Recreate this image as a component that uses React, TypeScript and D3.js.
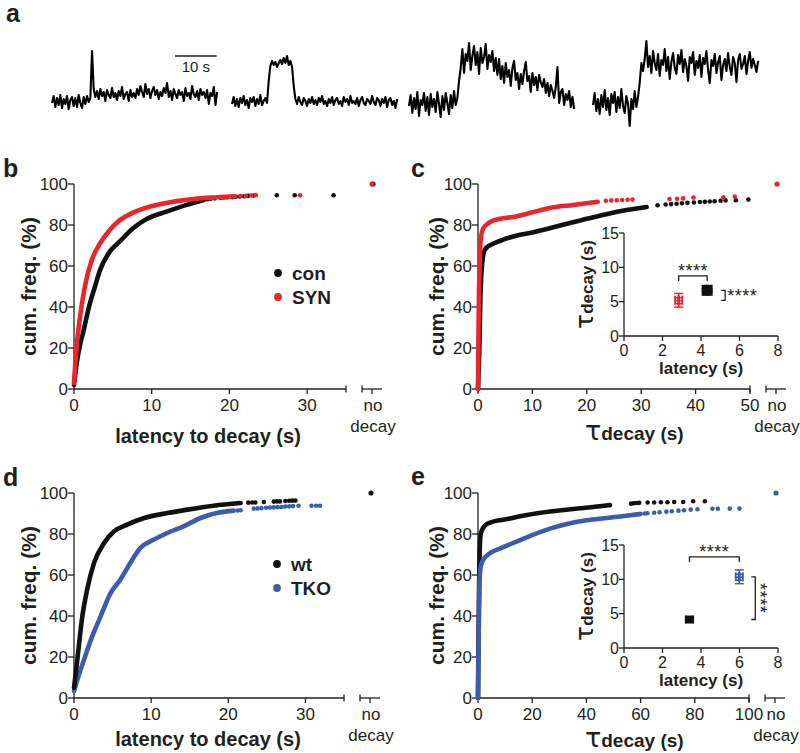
import React from 'react';
import * as d3 from 'd3';

type Pt = [number, number];

// ---------- tick labels / categories ----------
const Y_TICKS = [0, 20, 40, 60, 80, 100];
const B_X_TICKS = [0, 10, 20, 30];
const C_X_TICKS = [0, 10, 20, 30, 40, 50];
const D_X_TICKS = [0, 10, 20, 30];
const E_X_TICKS = [0, 20, 40, 60, 80, 100];
const INSET_X_TICKS = [0, 2, 4, 6, 8];
const INSET_Y_TICKS = [0, 5, 10, 15];
const B_GROUPS = ['con', 'SYN'];
const D_GROUPS = ['wt', 'TKO'];
const SIG_LABEL = '****';

// ---------- panel a: example traces (a.u., one sample every 0.4 s) ----------
const TRACE_1 = [-2, 5, -6, 3, -4, 6, -7, 2, -3, 5, -8, 1, 4, -5, 3, -6, 6, -2, -7, 4, -3, 5, -1, 3,
  50, 12,
  4, 10, 2, 12, 5, 9, 0, 11, 6, 3, 13, 4, 8, 1, 10, 5, 14, 2, 7, 9, 0, 11, 4, 8, 3, 12, 6, 15, 9, 4,
  17, 7, 12, 3, 10, 14, 6, 11, 2, 9, 5, 13, 8, 18, 4, 10, 1, 12, 7, 3, 11, 6, 9, 0, 13, 5, 8, 2, 15, 7,
  4, 10, 1, 12, 6, 9, 3, 11, -3, 8, 5, 14, -4, 9];
const TRACE_2 = [-3, 4, -5, 2, -6, 3, -2, 5, -4, 1, -7, 3, -1, 4, -5, 2, -3, 6, -4, 0, 3, -2,
  20,
  35, 40, 36, 39, 34, 38, 41, 37, 43, 38, 45, 36, 40, 34,
  15,
  2, -3, 4, -1, -4, 3, 0, -5, 2, -2, 4, -3, 1, -4, 3, -1, 5, -3, 0, -5, 2, -2, 4, -4, 1, 3, -3, 0, -5, 4,
  -1, 2, -4, 5, -2, 0, -3, 3, -5, 1, 4, -2, -4, 2, 0, -3, 5, -1, -4, 3, 1, -5, 2, -2, 4, -6, 1, 3, -4, 0,
  -7, 2];
const TRACE_3 = [-5, 6, -12, 3, -8, 9, -15, 1, -4, 8, -10, 4, -14, 7, -6, 2, -11, 9, -3, -16, 5, -9, 8, -2, -13, 6, -7, 10, -4, 3,
  20,
  33, 52, 28, 47, 40, 58, 31, 45, 55, 36, 49, 27, 53, 38, 44, 57, 32, 46, 39, 50, 30, 43,
  26, 42, 22, 35, 18, 38, 24, 31, 15, 33, 40, 21, 28,
  12, 27, 17, 30, 39, 20, 25, 9, 28, 16, 24, 11, 26, 19, 14,
  22, 8, 18, 5, 16, 10, 3, 14, 34, -2, 9, 12, -4, 7, 1, 10, -6, 4, -8];
const TRACE_4 = [-4, 8, -10, 2, -13, 6, -6, 11, -9, 3, -14, 7, -2, 9, -11, 4, -7, 12, -5, -12, 5, -3, -25, 2, -8, 10, -6, 4,
  18, 38, 30, 42, 60,
  34, 45, 28, 50, 38, 31, 47, 25, 41, 36, 52, 30, 44, 22, 39, 48, 33, 27, 46, 37, 51, 29, 42, 35, 20, 44, 38, 49, 26, 40,
  33, 46, 24, 43, 37, 50, 31, 18, 41, 35, 47, 28, 39, 45, 21, 36, 42, 30, 48, 34, 26, 44, 38, 19, 41, 47, 32, 37, 45, 27,
  40, 49, 33, 42, 36, 29, 40];
const TRACE_DT = 0.4; // s per sample
const SCALE_BAR_S = 10;

// ---------- panel b: latency to decay (s) vs cum. freq. (%) ----------
const B_CON_CURVE: Pt[] = [[0, 2], [0.34, 12.5], [0.8, 22], [1.2, 28], [2.06, 42], [2.7, 50], [3.35, 58], [4.6, 67], [5.9, 72], [7.6, 78.4], [9.4, 83], [11.9, 86.5], [14.5, 89.8], [16.7, 92.2]];
const B_CON_TAIL: Pt[] = [[17.2, 92.6], [17.6, 92.8], [18.1, 93], [18.9, 93.3], [19.3, 93.4], [19.7, 93.5], [20.4, 93.6], [20.8, 93.8], [21.3, 93.9], [21.9, 94], [22.4, 94.2], [23.1, 94.4], [26.1, 94.5], [28.4, 94.5], [33.4, 94.5]];
const B_SYN_CURVE: Pt[] = [[0, 3], [0.34, 20.6], [0.77, 35], [1.4, 50], [2.3, 63], [3.35, 71], [4.6, 77.6], [5.9, 82.4], [7.6, 86], [9.8, 89], [12.8, 91.4], [15.4, 92.7], [18.4, 93.5], [20.7, 94]];
const B_SYN_TAIL: Pt[] = [[21.4, 94.1], [22.1, 94.2], [22.8, 94.4], [23.4, 94.5], [29.1, 94.5]];

// ---------- panel c: tau decay (s) ----------
const C_CON_CURVE: Pt[] = [[0, 0], [0.25, 20], [0.45, 45], [0.6, 55], [0.8, 62], [1.1, 67], [1.6, 69], [2.5, 70.5], [4, 72.2], [7, 74.8], [10, 76.4], [13, 78.3], [16, 80.4], [20, 83], [23.6, 85.3], [27.3, 87.3], [31, 88.8]];
const C_CON_TAIL: Pt[] = [[33, 89.6], [34.5, 90], [35.5, 90.2], [36.5, 90.4], [37.5, 90.6], [38.5, 90.8], [39.7, 91], [40.8, 91.2], [41.7, 91.3], [42.6, 91.5], [43.5, 91.6], [44.6, 91.8], [45.5, 92], [47.4, 92.1], [49.7, 92.4]];
const C_SYN_CURVE: Pt[] = [[0, 0], [0.1, 30], [0.2, 50], [0.35, 65], [0.55, 74], [0.9, 78], [1.5, 80], [2.8, 82.2], [4, 83], [7, 84.2], [10, 86.2], [13, 88.2], [17.5, 89.8], [22, 91.3]];
const C_SYN_TAIL: Pt[] = [[23.5, 91.8], [24.5, 92], [25.5, 92.1], [26.5, 92.2], [27.5, 92.3], [28.4, 92.4], [35.2, 92.7], [36.6, 92.8], [37.7, 93], [39.6, 93.4], [45.1, 93.5], [47.2, 93.9]];

// ---------- panel d: latency to decay (s) ----------
const D_WT_CURVE: Pt[] = [[0, 5], [0.43, 18.7], [1.08, 39.8], [1.7, 52.8], [2.6, 65.9], [3.9, 75.6], [5.2, 81.3], [6.9, 84.6], [9.1, 87.8], [12.1, 90.2], [14.7, 91.9], [18.1, 93.8], [21.6, 95.1]];
const D_WT_TAIL: Pt[] = [[22.6, 95.3], [23.1, 95.4], [23.5, 95.4], [24.6, 95.6], [25.9, 95.8], [26.3, 95.9], [26.7, 95.9], [27.4, 96.1], [27.9, 96.2], [28.3, 96.3], [28.7, 96.3]];
const D_TKO_CURVE: Pt[] = [[0, 3.3], [0.43, 8.9], [1.3, 18.7], [2.2, 28.5], [3.45, 39.8], [4.74, 51.2], [6, 57.7], [7.3, 65.9], [8.6, 73.2], [10.3, 77.2], [12.1, 80.5], [14.2, 83.7], [16.4, 87.8], [18.5, 90.2], [20.7, 91.4]];
const D_TKO_TAIL: Pt[] = [[21.2, 91.5], [21.6, 91.6], [23.3, 92.4], [23.8, 92.5], [24.3, 92.6], [24.9, 92.8], [25.4, 92.9], [25.9, 93], [26.4, 93.1], [26.9, 93.2], [27.4, 93.4], [27.9, 93.5], [28.4, 93.6], [29.1, 93.8], [30.8, 93.8], [31.4, 93.8], [31.9, 93.8]];

// ---------- panel e: tau decay (s) ----------
const E_WT_CURVE: Pt[] = [[0, 0], [0.2, 30], [0.4, 55], [0.6, 70], [0.9, 79], [1.5, 82], [2.5, 84], [4.5, 85.6], [10.7, 87.3], [18, 89.3], [26.6, 91], [35.2, 92.2], [45, 93.5], [48.7, 94.1]];
const E_WT_TAIL: Pt[] = [[56.5, 94.8], [57.5, 95], [58.5, 95.1], [59.5, 95.2], [62.6, 95.4], [65, 95.4], [67.5, 95.5], [69.9, 95.5], [72.4, 95.6], [75.7, 95.6], [79.4, 96], [83.7, 96]];
const E_TKO_CURVE: Pt[] = [[0, 0], [0.2, 25], [0.4, 45], [0.6, 58], [1, 64], [2, 67.5], [3.3, 69.5], [5.5, 71.5], [8.2, 73], [14.4, 76.4], [20.5, 79.7], [26.6, 82.6], [32.8, 84.9], [40.1, 86.7], [47.5, 87.8], [54.8, 88.9], [60, 89.8]];
const E_TKO_TAIL: Pt[] = [[61.5, 90], [62.5, 90.1], [65, 90.4], [67, 90.6], [69.5, 90.9], [71.5, 91.1], [74, 91.4], [76, 91.6], [78.5, 91.9], [81, 92.1], [86.5, 92.3], [88.5, 92.3], [92.9, 92.4], [96.5, 92.4]];

// ---------- insets: mean latency (s) and tau decay (s) ----------
const C_INSET_LATENCY = [4.32, 2.84];
const C_INSET_TAU = [6.65, 5.2];
const C_INSET_LAT_SEM = [0.05, 0.08];
const C_INSET_TAU_SEM = [0.2, 1.0];
const E_INSET_LATENCY = [3.4, 5.99];
const E_INSET_TAU = [4.15, 10.37];
const E_INSET_LAT_SEM = [0.2, 0.08];
const E_INSET_TAU_SEM = [0.25, 1.0];

// ---------- styles ----------
const FONT = "'Liberation Sans', Arial, Helvetica, sans-serif";
const INK = '#231f20';
const RED = '#e8262b';
const BLUE = '#3d5cab';
const BLK = '#111111';
const COLORS: Record<string, string> = { con: BLK, SYN: RED, wt: BLK, TKO: BLUE };
const MARKER_SIZE: Record<string, number> = { con: 11, SYN: 9, wt: 8, TKO: 9 };
const HOLLOW: Record<string, boolean> = { con: false, SYN: true, wt: false, TKO: true };

interface Layout { x0: number; xEnd: number; yBottom: number; yTop: number; }
interface Series { group: string; curve: Pt[]; tail: Pt[]; }

function TauTitle({ x, y, rotate, anchor, big, small }:
  { x: number; y: number; rotate?: number; anchor: string; big: number; small: number }) {
  return (
    <text x={x} y={y} textAnchor={anchor} fill={INK}
      transform={rotate ? `rotate(${rotate},${x},${y})` : undefined} fontFamily={FONT}>
      <tspan fontSize={big} fontFamily="'DejaVu Sans', sans-serif">τ</tspan>
      <tspan fontSize={small} fontWeight="bold">decay (s)</tspan>
    </text>
  );
}

function CumPanel({ L, xMax, xTicks, series, nd, legend, legendPos, yTitleX, xTitle, xTitleX, xTitleY }:
  {
    L: Layout; xMax: number; xTicks: number[]; series: Series[]; nd: string[];
    legend?: string[]; legendPos?: [number, number]; yTitleX: number; xTitle: 'latency' | 'tau';
    xTitleX: number; xTitleY: number;
  }) {
  const x = d3.scaleLinear().domain([0, xMax]).range([L.x0, L.xEnd]);
  const y = d3.scaleLinear().domain([0, 100]).range([L.yBottom, L.yTop]);
  const line = d3.line<Pt>().x(d => x(d[0])).y(d => y(d[1])).curve(d3.curveMonotoneX);
  const yB = L.yBottom;
  const ndX = L.xEnd + 26;
  const sw = 1.3;
  return (
    <g fontFamily={FONT} fill={INK}>
      {/* y axis */}
      <line x1={L.x0} x2={L.x0} y1={y(0)} y2={y(100)} stroke={INK} strokeWidth={sw} />
      {Y_TICKS.map(t => (
        <g key={'y' + t}>
          <line x1={L.x0 - 6} x2={L.x0} y1={y(t)} y2={y(t)} stroke={INK} strokeWidth={sw} />
          <text x={L.x0 - 6} y={y(t)} dy="0.36em" textAnchor="end" fontSize={17}>{t}</text>
        </g>
      ))}
      {/* x axis with break */}
      <line x1={L.x0} x2={x(xMax)} y1={yB} y2={yB} stroke={INK} strokeWidth={sw} />
      {xTicks.map(t => (
        <g key={'x' + t}>
          <line x1={x(t)} x2={x(t)} y1={yB} y2={yB + 5} stroke={INK} strokeWidth={sw} />
          <text x={x(t)} y={yB + 22} textAnchor="middle" fontSize={17}>{t}</text>
        </g>
      ))}
      <line x1={x(xMax)} x2={x(xMax)} y1={yB - 3.5} y2={yB + 3.5} stroke={INK} strokeWidth={sw} />
      <line x1={L.xEnd + 16} x2={L.xEnd + 36} y1={yB} y2={yB} stroke={INK} strokeWidth={sw} />
      <line x1={L.xEnd + 16} x2={L.xEnd + 16} y1={yB - 3.5} y2={yB + 3.5} stroke={INK} strokeWidth={sw} />
      <line x1={ndX} x2={ndX} y1={yB} y2={yB + 5} stroke={INK} strokeWidth={sw} />
      <text x={ndX + 1} y={yB + 22} textAnchor="middle" fontSize={17}>no</text>
      <text x={ndX + 1} y={yB + 43} textAnchor="middle" fontSize={17}>decay</text>
      {/* titles */}
      <text x={yTitleX} y={(L.yBottom + L.yTop) / 2} textAnchor="middle" fontSize={21} fontWeight="bold"
        transform={`rotate(-90,${yTitleX},${(L.yBottom + L.yTop) / 2})`}>cum. freq. (%)</text>
      {xTitle === 'latency'
        ? <text x={xTitleX} y={xTitleY} textAnchor="middle" fontSize={20} fontWeight="bold">latency to decay (s)</text>
        : <TauTitle x={xTitleX} y={xTitleY} anchor="start" big={27} small={19} />}
      {/* data */}
      {series.map(s => (
        <g key={s.group}>
          <path d={line(s.curve) || ''} fill="none" stroke={COLORS[s.group]} strokeWidth={4.6}
            strokeLinecap="round" strokeLinejoin="round" />
          {s.tail.map((p, i) => (
            <circle key={i} cx={x(p[0])} cy={y(p[1])} r={2.3} fill={COLORS[s.group]} />
          ))}
        </g>
      ))}
      {nd.map((g, i) => (
        <circle key={'nd' + g} cx={ndX + 1 - i} cy={y(100)} r={2.6} fill={COLORS[g]} />
      ))}
      {legend && legendPos && legend.map((g, i) => (
        <g key={'lg' + g}>
          <circle cx={legendPos[0]} cy={legendPos[1] + i * 24} r={3.9} fill={COLORS[g]} />
          <text x={legendPos[0] + 14} y={legendPos[1] + i * 24 + 7} fontSize={19} fontWeight="bold" fill={INK}>{g}</text>
        </g>
      ))}
    </g>
  );
}

function Inset({ L, groups, latency, tau, latSem, tauSem, vertical }:
  { L: Layout; groups: string[]; latency: number[]; tau: number[]; latSem: number[]; tauSem: number[]; vertical: boolean }) {
  const x = d3.scaleLinear().domain([0, 8]).range([L.x0, L.xEnd]);
  const y = d3.scaleLinear().domain([0, 15]).range([L.yBottom, L.yTop]);
  const sw = 1.3;
  const yMid = (L.yBottom + L.yTop) / 2;
  const px = latency.map(v => x(v));
  const py = tau.map(v => y(v));
  const bracketY = Math.min(...py.map((v, i) => v - (y(0) - y(tauSem[i])))) - 13;
  const vx = Math.max(...px) + (vertical ? 16 : 18);
  const vTop = Math.min(...py);
  const vBot = Math.max(...py);
  return (
    <g fontFamily={FONT} fill={INK}>
      <line x1={L.x0} x2={L.x0} y1={y(0)} y2={y(15)} stroke={INK} strokeWidth={sw} />
      {INSET_Y_TICKS.map(t => (
        <g key={'iy' + t}>
          <line x1={L.x0 - 5} x2={L.x0} y1={y(t)} y2={y(t)} stroke={INK} strokeWidth={sw} />
          <text x={L.x0 - 5} y={y(t)} dy="0.36em" textAnchor="end" fontSize={16}>{t}</text>
        </g>
      ))}
      <line x1={L.x0} x2={x(8)} y1={L.yBottom} y2={L.yBottom} stroke={INK} strokeWidth={sw} />
      {INSET_X_TICKS.map(t => (
        <g key={'ix' + t}>
          <line x1={x(t)} x2={x(t)} y1={L.yBottom} y2={L.yBottom + 5} stroke={INK} strokeWidth={sw} />
          <text x={x(t)} y={L.yBottom + 20} textAnchor="middle" fontSize={16}>{t}</text>
        </g>
      ))}
      <text x={(L.x0 + L.xEnd) / 2} y={L.yBottom + 38} textAnchor="middle" fontSize={17} fontWeight="bold">latency (s)</text>
      <TauTitle x={L.x0 - 31} y={yMid} rotate={-90} anchor="middle" big={25} small={17} />
      {/* markers */}
      {groups.map((g, i) => {
        const s = MARKER_SIZE[g];
        const c = COLORS[g];
        const cx = px[i], cy = py[i];
        const yt = y(tau[i] + tauSem[i]), yb = y(tau[i] - tauSem[i]);
        const xl = x(latency[i] - latSem[i]), xr = x(latency[i] + latSem[i]);
        return (
          <g key={'m' + g}>
            <rect x={cx - s / 2} y={cy - s / 2} width={s} height={s} fill={c} />
            <line x1={cx} x2={cx} y1={yt} y2={yb} stroke={c} strokeWidth={1.5} />
            <line x1={cx - s / 2} x2={cx + s / 2} y1={yt} y2={yt} stroke={c} strokeWidth={1.5} />
            <line x1={cx - s / 2} x2={cx + s / 2} y1={yb} y2={yb} stroke={c} strokeWidth={1.5} />
            <line x1={xl} x2={xr} y1={cy} y2={cy} stroke={c} strokeWidth={1.5} />
            <line x1={xl} x2={xl} y1={cy - s / 2} y2={cy + s / 2} stroke={c} strokeWidth={1.5} />
            <line x1={xr} x2={xr} y1={cy - s / 2} y2={cy + s / 2} stroke={c} strokeWidth={1.5} />
            {HOLLOW[g] && (
              <g stroke="#ffffff" strokeWidth={1.2} strokeDasharray="1.5,1.5">
                <line x1={cx - 2} x2={cx - 2} y1={yt + 2} y2={yb - 1} />
                <line x1={cx + 2} x2={cx + 2} y1={yt + 2} y2={yb - 1} />
              </g>
            )}
          </g>
        );
      })}
      {/* horizontal significance bracket */}
      <path d={`M${Math.min(...px)},${bracketY + 5}V${bracketY}H${Math.max(...px)}V${bracketY + 5}`}
        fill="none" stroke={INK} strokeWidth={sw} />
      <text x={(px[0] + px[1]) / 2} y={bracketY + 1} textAnchor="middle" fontSize={18} letterSpacing={0.5}>{SIG_LABEL}</text>
      {/* vertical significance bracket */}
      <path d={`M${vx - 4},${vTop}H${vx}V${vBot}H${vx - 4}`} fill="none" stroke={INK} strokeWidth={sw} />
      {vertical
        ? <text x={vx - 1} y={(vTop + vBot) / 2} textAnchor="middle" fontSize={18} letterSpacing={0.5}
          transform={`rotate(90,${vx - 1},${(vTop + vBot) / 2})`}>{SIG_LABEL}</text>
        : <text x={vx + 2} y={(vTop + vBot) / 2 + 7} fontSize={18} letterSpacing={0.5}>{SIG_LABEL}</text>}
    </g>
  );
}

function Traces() {
  const traces = [TRACE_1, TRACE_2, TRACE_3, TRACE_4];
  const starts = [52, 232, 409, 593];
  const t = d3.scaleLinear().domain([0, 10]).range([0, 41.7]);
  const yv = d3.scaleLinear().domain([0, 60]).range([101, 41]);
  return (
    <g>
      {traces.map((tr, k) => {
        const line = d3.line<number>().x((_, i) => starts[k] + t(i * TRACE_DT)).y(v => yv(v));
        return <path key={k} d={line(tr) || ''} fill="none" stroke="#000" strokeWidth={2.1} strokeLinejoin="round" />;
      })}
      <line x1={175} x2={175 + t(SCALE_BAR_S)} y1={56} y2={56} stroke={INK} strokeWidth={1.4} />
      <text x={175 + t(SCALE_BAR_S) / 2} y={72} textAnchor="middle" fontSize={15} fontFamily={FONT} fill={INK}>{SCALE_BAR_S} s</text>
    </g>
  );
}

export default function App() {
  const PB: Layout = { x0: 74, xEnd: 346, yBottom: 389, yTop: 184 };
  const PC: Layout = { x0: 478, xEnd: 750, yBottom: 389, yTop: 184 };
  const PD: Layout = { x0: 74, xEnd: 344, yBottom: 698, yTop: 493 };
  const PE: Layout = { x0: 478, xEnd: 749, yBottom: 698, yTop: 493 };
  const IC: Layout = { x0: 624, xEnd: 778, yBottom: 336, yTop: 233 };
  const IE: Layout = { x0: 624, xEnd: 778, yBottom: 648, yTop: 545 };
  const letter = (s: string, x: number, y: number) => (
    <text x={x} y={y} fontSize={25} fontWeight="bold" fontFamily={FONT} fill={INK}>{s}</text>
  );
  return (
    <svg width={800} height={753} viewBox="0 0 800 753"
      style={{ position: 'absolute', left: 0, top: 0, display: 'block', background: '#fff' }}>
      <rect x={0} y={0} width={800} height={753} fill="#fff" />
      {letter('a', 6, 22)}
      {letter('b', 3, 177)}
      {letter('c', 411, 177)}
      {letter('d', 3, 486)}
      {letter('e', 411, 485)}
      <Traces />
      <CumPanel L={PB} xMax={35} xTicks={B_X_TICKS}
        series={[{ group: 'con', curve: B_CON_CURVE, tail: B_CON_TAIL }, { group: 'SYN', curve: B_SYN_CURVE, tail: B_SYN_TAIL }]}
        nd={['con', 'SYN']} legend={B_GROUPS} legendPos={[278, 273]} yTitleX={36}
        xTitle="latency" xTitleX={208} xTitleY={443} />
      <CumPanel L={PC} xMax={50} xTicks={C_X_TICKS}
        series={[{ group: 'con', curve: C_CON_CURVE, tail: C_CON_TAIL }, { group: 'SYN', curve: C_SYN_CURVE, tail: C_SYN_TAIL }]}
        nd={['SYN']} yTitleX={444} xTitle="tau" xTitleX={585} xTitleY={440} />
      <Inset L={IC} groups={B_GROUPS} latency={C_INSET_LATENCY} tau={C_INSET_TAU}
        latSem={C_INSET_LAT_SEM} tauSem={C_INSET_TAU_SEM} vertical={false} />
      <CumPanel L={PD} xMax={35} xTicks={D_X_TICKS}
        series={[{ group: 'TKO', curve: D_TKO_CURVE, tail: D_TKO_TAIL }, { group: 'wt', curve: D_WT_CURVE, tail: D_WT_TAIL }]}
        nd={['wt']} legend={D_GROUPS} legendPos={[277, 564]} yTitleX={36}
        xTitle="latency" xTitleX={208} xTitleY={746} />
      <CumPanel L={PE} xMax={100} xTicks={E_X_TICKS}
        series={[{ group: 'wt', curve: E_WT_CURVE, tail: E_WT_TAIL }, { group: 'TKO', curve: E_TKO_CURVE, tail: E_TKO_TAIL }]}
        nd={['TKO']} yTitleX={444} xTitle="tau" xTitleX={585} xTitleY={747} />
      <Inset L={IE} groups={D_GROUPS} latency={E_INSET_LATENCY} tau={E_INSET_TAU}
        latSem={E_INSET_LAT_SEM} tauSem={E_INSET_TAU_SEM} vertical={true} />
    </svg>
  );
}
